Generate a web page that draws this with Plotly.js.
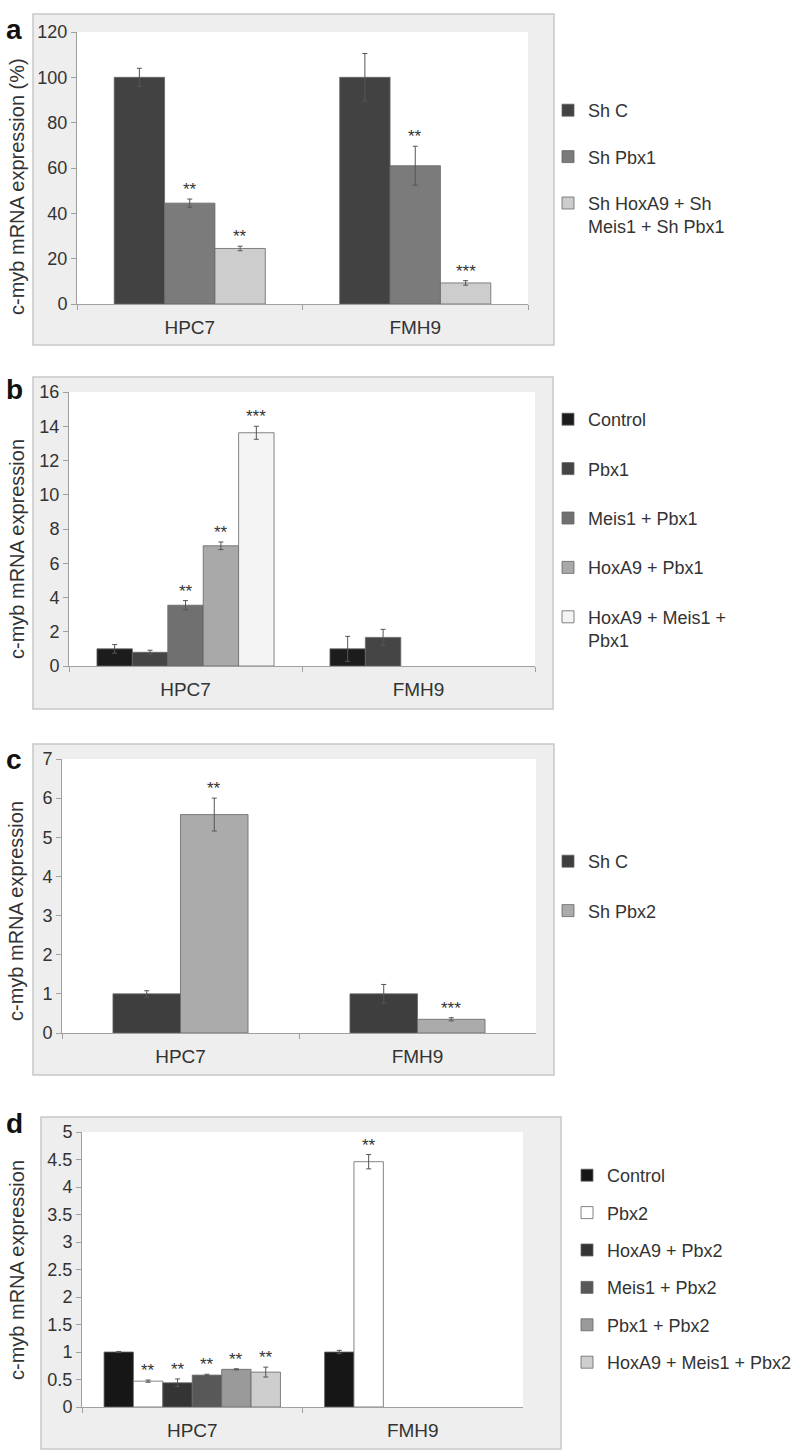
<!DOCTYPE html>
<html><head><meta charset="utf-8">
<script src="https://cdn.plot.ly/plotly-3.0.1.min.js"></script>
<style>html,body{margin:0;padding:0;background:#fff}</style>
</head><body><div id="chart" style="width:798px;height:1452px"></div>
<script>
const categories = ['HPC7', 'FMH9'];

// Panel a
const seriesA = ['Sh C', 'Sh Pbx1', 'Sh HoxA9 + Sh<br>Meis1 + Sh Pbx1'];
const valuesA = [[100, 100], [44.5, 61], [24.5, 9.3]];
const errorsA = [[4, 10.5], [1.8, 8.6], [1, 1]];
const starsA = [['', ''], ['**', '**'], ['**', '***']];
const colorsA = ['#424242', '#7b7b7b', '#cdcdcd'];

// Panel b
const seriesB = ['Control', 'Pbx1', 'Meis1 + Pbx1', 'HoxA9 + Pbx1', 'HoxA9 + Meis1 +<br>Pbx1'];
const valuesB = [[1.0, 1.0], [0.8, 1.67], [3.55, null], [7.02, null], [13.62, null]];
const errorsB = [[0.25, 0.73], [0.12, 0.47], [0.27, null], [0.22, null], [0.38, null]];
const starsB = [['', ''], ['', ''], ['**', ''], ['**', ''], ['***', '']];
const colorsB = ['#1c1c1c', '#454545', '#707070', '#a9a9a9', '#f4f4f4'];

// Panel c
const seriesC = ['Sh C', 'Sh Pbx2'];
const valuesC = [[1.0, 1.0], [5.58, 0.35]];
const errorsC = [[0.08, 0.24], [0.42, 0.04]];
const starsC = [['', ''], ['**', '***']];
const colorsC = ['#3e3e3e', '#ababab'];

// Panel d
const seriesD = ['Control', 'Pbx2', 'HoxA9 + Pbx2', 'Meis1 + Pbx2', 'Pbx1 + Pbx2', 'HoxA9 + Meis1 + Pbx2'];
const valuesD = [[1.0, 1.0], [0.47, 4.46], [0.44, null], [0.58, null], [0.685, null], [0.635, null]];
const errorsD = [[0.01, 0.03], [0.02, 0.13], [0.07, null], [0.015, null], [0.01, null], [0.09, null]];
const starsD = [['', ''], ['**', '**'], ['**', ''], ['**', ''], ['**', ''], ['**', '']];
const colorsD = ['#161616', '#ffffff', '#343434', '#585858', '#9a9a9a', '#cecece'];

const yTitleA = 'c-myb mRNA expression (%)';
const yTitle = 'c-myb mRNA expression';

const W = 798, H = 1452;
const FONT = 'Liberation Sans, Arial, Helvetica, sans-serif';
const px = v => v / W;
const py = v => 1 - v / H;

const panels = [
  {letter: 'a', names: seriesA, vals: valuesA, errs: errorsA, stars: starsA, colors: colorsA, title: yTitleA,
   range: [0, 120], dtick: 20, plot: [77, 528, 32, 304], box: [33, 554, 14, 345], fill: 0.67,
   letterPos: [4, 12], titlePos: [17, 187], leg: [548, 92, 20]},
  {letter: 'b', names: seriesB, vals: valuesB, errs: errorsB, stars: starsB, colors: colorsB, title: yTitle,
   range: [0, 16], dtick: 2, plot: [69, 535, 392, 666], box: [33, 553, 377, 709], fill: 0.76,
   letterPos: [4, 372], titlePos: [17, 549], leg: [548, 401, 23]},
  {letter: 'c', names: seriesC, vals: valuesC, errs: errorsC, stars: starsC, colors: colorsC, title: yTitle,
   range: [0, 7], dtick: 1, plot: [62, 536, 759, 1033], box: [33, 554, 744, 1075], fill: 0.57,
   letterPos: [4, 742], titlePos: [16, 911], leg: [548, 843, 23]},
  {letter: 'd', names: seriesD, vals: valuesD, errs: errorsD, stars: starsD, colors: colorsD, title: yTitle,
   range: [0, 5], dtick: 0.5, plot: [82, 523, 1132, 1407], box: [41, 561, 1117, 1449], fill: 0.80,
   letterPos: [4, 1106], titlePos: [17, 1270], leg: [567, 1157, 11]}
];

const traces = [];
const shapes = [];
const annotations = [];
const layout = {
  width: W, height: H,
  margin: {l: 0, r: 0, t: 0, b: 0},
  paper_bgcolor: '#ffffff', plot_bgcolor: '#ffffff',
  barmode: 'overlay',
  font: {family: FONT, color: '#333333', size: 17},
  showlegend: true
};

panels.forEach((p, pi) => {
  const sfx = pi === 0 ? '' : String(pi + 1);
  const xa = 'x' + sfx, ya = 'y' + sfx;
  const legName = 'legend' + sfx;
  const n = p.names.length;
  const w = p.fill / n;

  layout['xaxis' + sfx] = {
    domain: [px(p.plot[0]), px(p.plot[1])], anchor: ya,
    type: 'category', range: [-0.5, 1.5], fixedrange: true,
    showline: true, linecolor: '#a0a0a0', linewidth: 1,
    ticks: 'outside', tickson: 'boundaries', ticklen: 5, tickcolor: '#a0a0a0',
    ticklabelstandoff: 6,
    tickfont: {size: 19, color: '#333333', family: FONT},
    showgrid: false, zeroline: false
  };
  layout['yaxis' + sfx] = {
    domain: [py(p.plot[3]), py(p.plot[2])], anchor: xa,
    range: p.range, dtick: p.dtick, tick0: 0, fixedrange: true,
    showline: true, linecolor: '#a0a0a0', linewidth: 1,
    ticks: 'outside', ticklen: 5, tickcolor: '#a0a0a0',
    tickfont: {size: 18, color: '#333333', family: FONT},
    showgrid: false, zeroline: false
  };

  // gray frame and white plot area
  shapes.push({type: 'rect', xref: 'paper', yref: 'paper', layer: 'below',
    x0: px(p.box[0]), x1: px(p.box[1]), y0: py(p.box[3]), y1: py(p.box[2]),
    fillcolor: '#eeeeee', line: {color: '#c8c8c8', width: 1.5}});
  shapes.push({type: 'rect', xref: xa + ' domain', yref: ya + ' domain', layer: 'below',
    x0: 0, x1: 1, y0: 0, y1: 1, fillcolor: '#ffffff', line: {width: 0}});

  p.names.forEach((name, i) => {
    const off = -p.fill / 2 + i * w;
    traces.push({
      type: 'bar', name: name, x: categories, y: p.vals[i],
      xaxis: xa, yaxis: ya, legend: legName, legendgroup: 'g' + pi + '_' + i,
      width: w, offset: off,
      marker: {color: p.colors[i], line: {color: '#666666', width: 0.8}},
      error_y: {type: 'data', array: p.errs[i], visible: true, color: '#555555', thickness: 1, width: 2.5},
      hoverinfo: 'skip'
    });
    categories.forEach((c, ci) => {
      const s = p.stars[i][ci];
      if (!s) return;
      annotations.push({
        xref: xa, yref: ya, x: ci + off + w / 2, y: p.vals[i][ci] + p.errs[i][ci],
        text: s, showarrow: false, yanchor: 'bottom', yshift: -2,
        font: {size: 17, color: '#333333', family: FONT}
      });
    });
  });

  layout[legName] = {
    x: px(p.leg[0]), y: py(p.leg[1]), xanchor: 'left', yanchor: 'top',
    bgcolor: 'rgba(0,0,0,0)', borderwidth: 0,
    traceorder: 'grouped', tracegroupgap: p.leg[2], valign: 'top',
    font: {size: 18, color: '#333333', family: FONT},
    itemclick: false, itemdoubleclick: false
  };

  annotations.push({xref: 'paper', yref: 'paper', x: px(p.letterPos[0]), y: py(p.letterPos[1]),
    xanchor: 'left', yanchor: 'top', showarrow: false, text: '<b>' + p.letter + '</b>',
    font: {size: 28, color: '#111111', family: FONT}});
  annotations.push({xref: 'paper', yref: 'paper', x: px(p.titlePos[0]), y: py(p.titlePos[1]),
    xanchor: 'center', yanchor: 'middle', showarrow: false, textangle: -90, text: p.title,
    font: {size: 20, color: '#333333', family: FONT}});
});

layout.shapes = shapes;
layout.annotations = annotations;

Plotly.newPlot('chart', traces, layout, {displayModeBar: false, staticPlot: true});
</script>
</body></html>
